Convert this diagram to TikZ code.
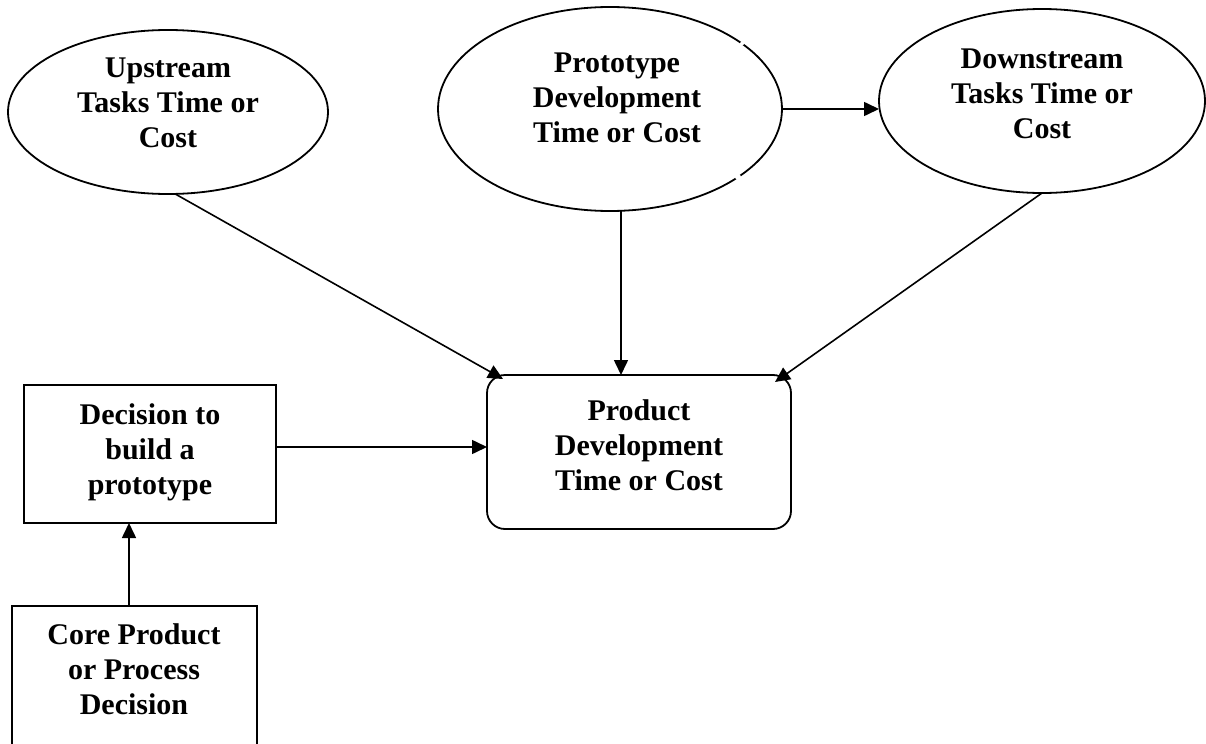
\documentclass[tikz,border=0pt]{standalone}
\usepackage{fontspec}
\setmainfont{Liberation Serif}
\usetikzlibrary{arrows.meta,shapes.geometric}

\begin{document}
\begin{tikzpicture}[x=0.5pt,y=-0.5pt,
  shapeline/.style={draw=black,line width=0.9pt,inner sep=0pt,outer sep=0pt},
  oval/.style={shapeline,ellipse},
  boxnode/.style={shapeline,rectangle},
  label/.style={font=\fontsize{15}{17.5}\selectfont\bfseries,align=center,inner sep=0pt,anchor=north},
  arr/.style={line width=0.8pt,-{Triangle[length=7.5pt,width=7pt]}},
  nick/.style={fill=white}]
\useasboundingbox (0,0) rectangle (1206,744);
\clip (0,0) rectangle (1206,744);

% shapes
\node[oval,minimum width=160pt,minimum height=82pt] (up) at (168,112) {};
\node[oval,minimum width=172pt,minimum height=102pt] (proto) at (610,109) {};
\node[oval,minimum width=163pt,minimum height=92pt] (down) at (1042,101) {};
\node[boxnode,rounded corners=9pt,minimum width=152pt,minimum height=77pt] (prod) at (639,452) {};
\node[boxnode,minimum width=126pt,minimum height=69pt] (dec) at (150,454) {};
\node[boxnode,minimum width=122.5pt,minimum height=97pt] (core) at (134.5,703) {};

% two small breaks in the outline of the prototype oval
\fill[nick] ([shift={(132,-65.4)}]proto.center) circle (1pt);
\fill[nick] ([shift={(128,68)}]proto.center) circle (1.5pt);

% texts
\node[label] (tup) at (168,57) {Upstream\\Tasks Time or\\Cost};
\node[label] (tproto) at (617,52) {Prototype\\Development\\Time or Cost};
\node[label] (tdown) at (1042,48) {Downstream\\Tasks Time or\\Cost};
\node[label] (tprod) at (639,399) {Product\\Development\\Time or Cost};
\node[label] (tdec) at (150,403) {Decision to\\build a\\prototype};
\node[label] (tcore) at (134,623) {Core Product\\or Process\\Decision};

% connectors
\draw[arr] (up.-85) -- ([shift={(16,4)}]prod.north west);
\draw[arr] ([xshift=5.5pt]proto.south) -- ([xshift=5.5pt]proto.south |- prod.north);
\draw[arr] (down.south) -- ([shift={(-16,7)}]prod.north east);
\draw[arr] (proto.east) -- (proto.east -| down.west);
\draw[arr] ([yshift=3.5pt]dec.east) -- ([yshift=3.5pt]dec.east -| prod.west);
\draw[arr] ([xshift=-2.75pt]core.north) -- ([xshift=-2.75pt]core.north |- dec.south);
\end{tikzpicture}
\end{document}
